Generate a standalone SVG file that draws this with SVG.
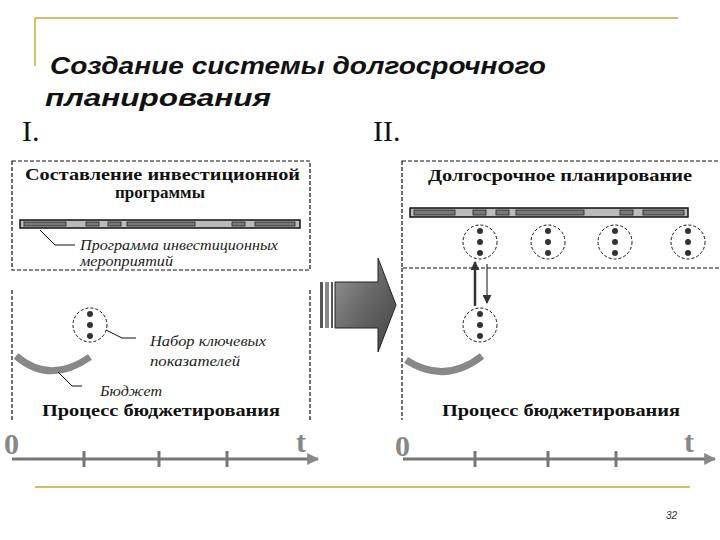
<svg xmlns="http://www.w3.org/2000/svg" width="720" height="540" viewBox="0 0 720 540">
<style>
.dash{fill:none;stroke:#111;stroke-width:1.2;stroke-dasharray:4 2}
.hd{font-family:"Liberation Serif",serif;font-weight:bold;font-size:17px;fill:#111}
.it{font-family:"Liberation Serif",serif;font-style:italic;font-size:14px;fill:#222}
.bar{fill:#bbb;stroke:#111;stroke-width:1.5}
.seg{fill:#777;stroke:#222;stroke-width:0.8}
.circ{fill:#fff;stroke:#111;stroke-width:1;stroke-dasharray:3 2}
.dot{fill:#333}
.axis{stroke:#777;stroke-width:3;fill:none}
.arc{stroke:#888;stroke-width:7;fill:none}
.big{font-family:"Liberation Serif",serif;font-weight:bold;font-size:30px;fill:#888}
.lead{stroke:#111;stroke-width:1;fill:none}
</style>
<defs>
<marker id="ah" viewBox="0 0 10 10" refX="9" refY="5" markerWidth="5" markerHeight="5" markerUnits="userSpaceOnUse" orient="auto"><path d="M0 0L10 5L0 10z" fill="#333"/></marker>
<marker id="ah2" viewBox="0 0 10 10" refX="9" refY="5" markerWidth="9" markerHeight="9" markerUnits="userSpaceOnUse" orient="auto"><path d="M0 0L10 5L0 10z" fill="#333"/></marker>
<marker id="ax" viewBox="0 0 10 10" refX="9" refY="5" markerWidth="4" markerHeight="4" orient="auto"><path d="M0 0L10 5L0 10z" fill="#888"/></marker>
<linearGradient id="g" x1="0" y1="0" x2="1" y2="1"><stop offset="0" stop-color="#999"/><stop offset="0.5" stop-color="#666"/><stop offset="1" stop-color="#444"/></linearGradient>
<g id="circleT"><circle r="17" class="circ"/><circle cy="-11" r="3" class="dot"/><circle r="3" class="dot"/><circle cy="11" r="3" class="dot"/></g>
</defs>
<g id="frame" stroke="#c8a838" stroke-width="1.5"><path d="M35 18H678M35 18V66M35 487H690"/></g>
<g id="title" font-family="Liberation Sans,Arial,sans-serif" font-weight="bold" font-style="italic" font-size="24" fill="#111">
<text x="50" y="74" textLength="496" lengthAdjust="spacingAndGlyphs">Создание системы долгосрочного</text>
<text x="45" y="106" textLength="226" lengthAdjust="spacingAndGlyphs">планирования</text></g>
<text x="22" y="141" font-family="Liberation Serif,serif" font-size="30" fill="#111">I.</text>
<text x="373" y="141" font-family="Liberation Serif,serif" font-size="30" fill="#111">II.</text>
<g id="left-invest">
<rect x="12" y="161" width="298" height="109" class="dash"/>
<text x="25" y="180" class="hd" textLength="275" lengthAdjust="spacingAndGlyphs">Составление инвестиционной</text>
<text x="160" y="198" class="hd" text-anchor="middle">программы</text>
<rect x="20" y="220" width="280" height="8" class="bar"/>
<rect x="24" y="222" width="42" height="4" class="seg"/><rect x="86" y="222" width="13" height="4" class="seg"/><rect x="108" y="222" width="13" height="4" class="seg"/><rect x="127" y="222" width="68" height="4" class="seg"/><rect x="232" y="222" width="13" height="4" class="seg"/><rect x="255" y="222" width="40" height="4" class="seg"/>
<path d="M40 230L55 245H75" class="lead"/>
<text x="80" y="250" class="it" textLength="198" lengthAdjust="spacingAndGlyphs">Программа инвестиционных</text>
<text x="80" y="266" class="it" textLength="93" lengthAdjust="spacingAndGlyphs">мероприятий</text>
</g>
<g id="left-budget">
<path d="M12 290V420M310 290V420" class="dash"/>
<use href="#circleT" x="90" y="325"/>
<path d="M106 330L122 338H136" class="lead"/>
<text x="150" y="346" class="it" textLength="116" lengthAdjust="spacingAndGlyphs">Набор ключевых</text>
<text x="150" y="366" class="it" textLength="90" lengthAdjust="spacingAndGlyphs">показателей</text>
<path d="M16 356Q50 385 90 357" class="arc"/>
<path d="M58 372L72 386H82" class="lead"/>
<text x="100" y="396" class="it" textLength="62" lengthAdjust="spacingAndGlyphs">Бюджет</text>
<text x="42" y="416" class="hd" textLength="238" lengthAdjust="spacingAndGlyphs">Процесс бюджетирования</text>
</g>
<g id="left-axis">
<path d="M12 459H318" class="axis" marker-end="url(#ax)"/>
<path d="M84 451V467M159 451V467M227 451V467" stroke="#777" stroke-width="3"/>
<text x="4" y="454" class="big">0</text><text x="296" y="452" class="big">t</text>
</g>
<g id="transition-arrow">
<rect x="320" y="282" width="3" height="46" fill="#555"/><rect x="325" y="282" width="4" height="46" fill="#888"/><rect x="331" y="282" width="2" height="46" fill="#555"/>
<path d="M335 282H378V258L396 305L378 352V328H335Z" fill="url(#g)" stroke="#222"/>
</g>
<g id="right-plan">
<rect x="402" y="161" width="330" height="107" class="dash"/>
<text x="428" y="181" class="hd" textLength="264" lengthAdjust="spacingAndGlyphs">Долгосрочное планирование</text>
<rect x="410" y="208" width="278" height="9" class="bar"/>
<rect x="414" y="210" width="41" height="5" class="seg"/><rect x="473" y="210" width="13" height="5" class="seg"/><rect x="496" y="210" width="13" height="5" class="seg"/><rect x="516" y="210" width="68" height="5" class="seg"/><rect x="620" y="210" width="13" height="5" class="seg"/><rect x="643" y="210" width="41" height="5" class="seg"/>
<use href="#circleT" x="480" y="242"/><use href="#circleT" x="548" y="242"/><use href="#circleT" x="615" y="242"/><use href="#circleT" x="688" y="242"/>
</g>
<g id="right-budget">
<path d="M402 268V420" class="dash"/>
<use href="#circleT" x="480" y="325"/>
<path d="M406 360Q445 385 482 356" class="arc"/>
<text x="442" y="416" class="hd" textLength="238" lengthAdjust="spacingAndGlyphs">Процесс бюджетирования</text>
</g>
<g id="connectors">
<path d="M475 306V262" stroke="#333" stroke-width="2.5" marker-end="url(#ah2)"/>
<path d="M487 264V303" stroke="#333" stroke-width="1.2" marker-end="url(#ah2)"/>
</g>
<g id="right-axis">
<path d="M403 459H715" class="axis" marker-end="url(#ax)"/>
<path d="M475 451V467M548 451V467M616 451V467" stroke="#777" stroke-width="3"/>
<text x="395" y="456" class="big">0</text><text x="684" y="452" class="big">t</text>
</g>
<text x="666" y="519" font-family="Liberation Sans,sans-serif" font-style="italic" font-size="10" fill="#333">32</text>
</svg>
